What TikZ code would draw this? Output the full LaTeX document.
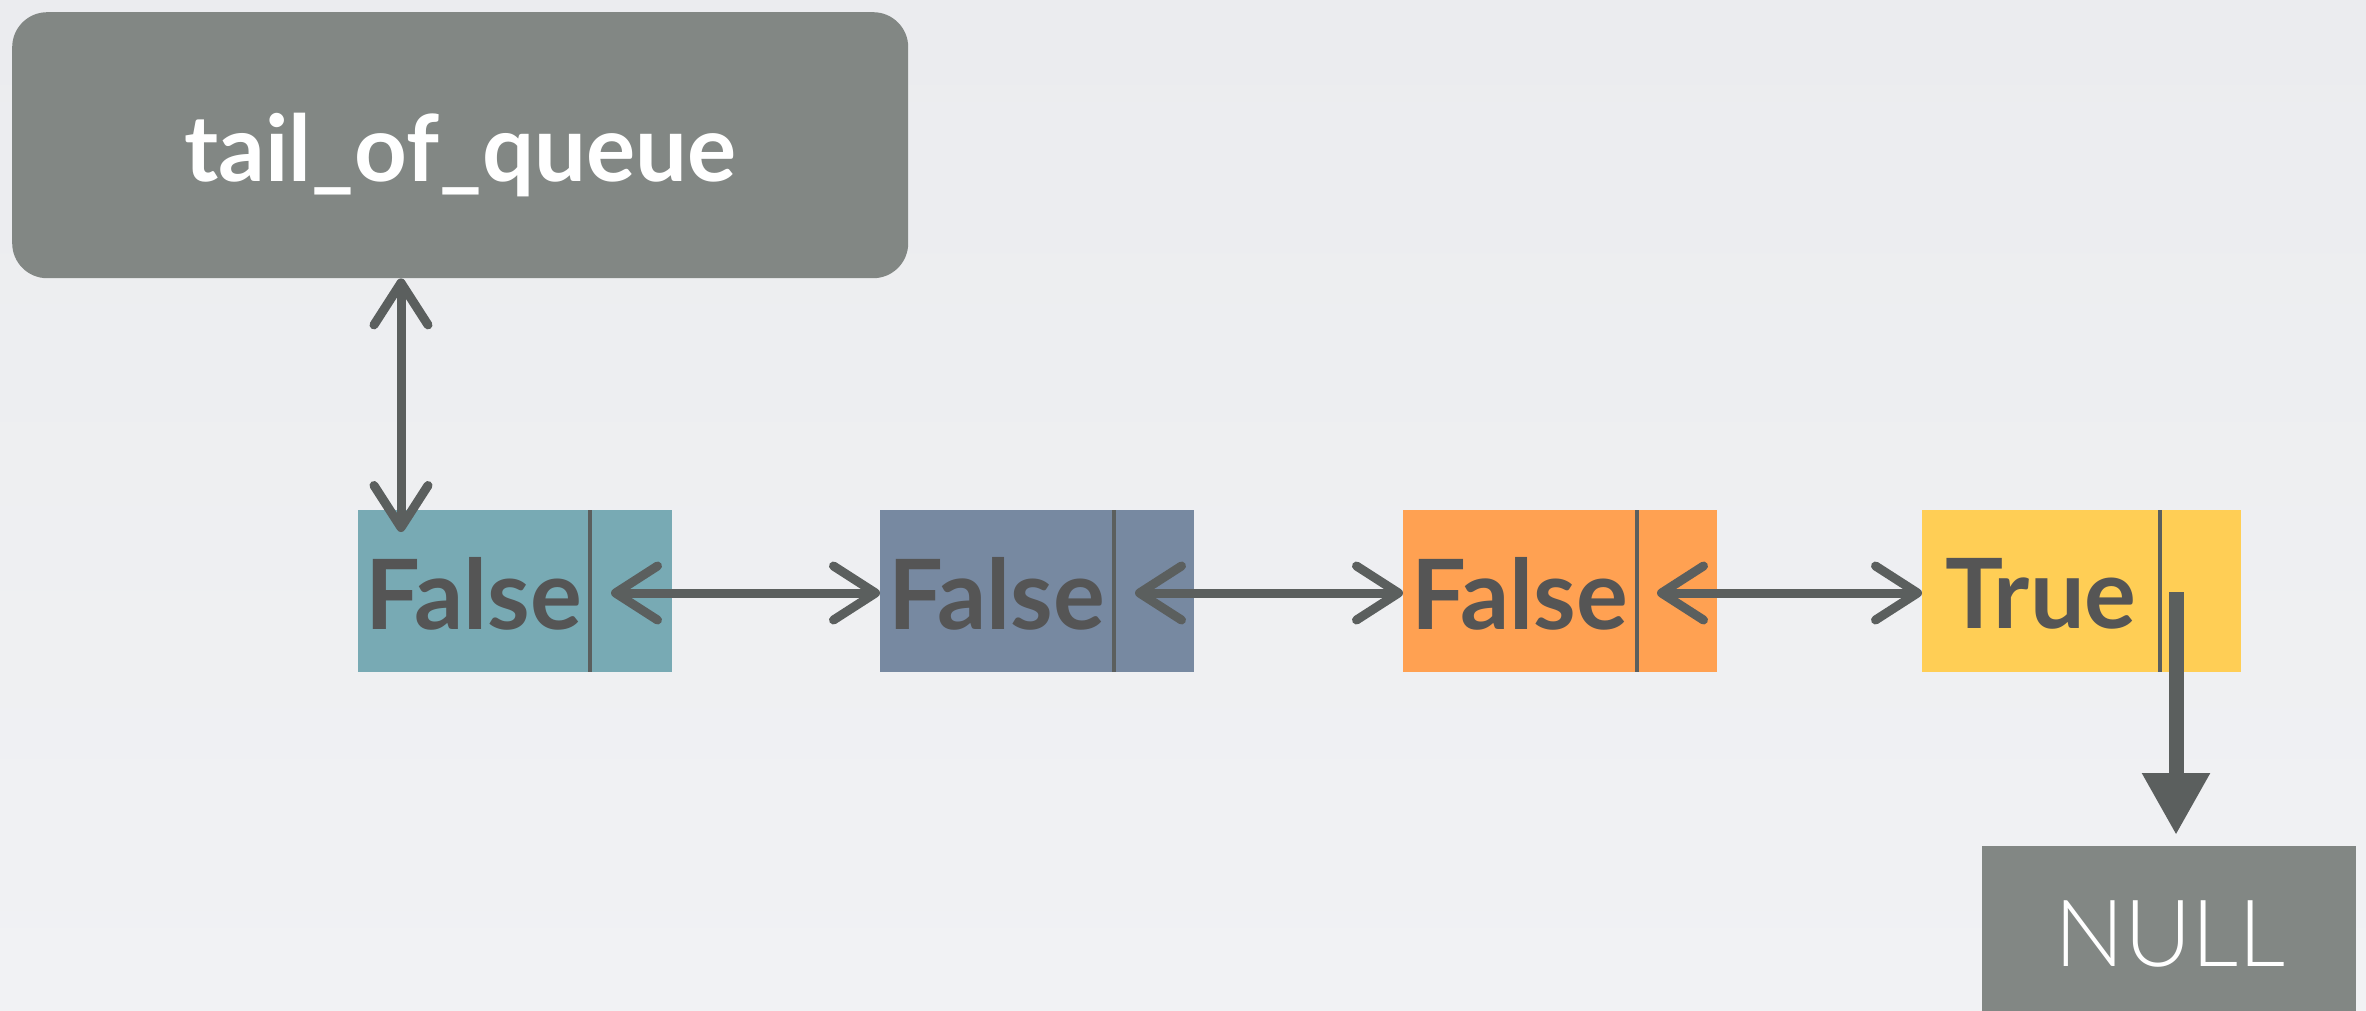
\documentclass[tikz,border=0pt]{standalone}
\usepackage{fontspec}
\setmainfont{Lato}
\newfontfamily\thinfont{Lato Light}
\usetikzlibrary{arrows.meta}

\definecolor{bgtop}{HTML}{EBECEF}
\definecolor{bgbot}{HTML}{F1F2F4}
\definecolor{slate}{HTML}{828784}
\definecolor{ink}{HTML}{555555}
\definecolor{wire}{HTML}{5B5F5E}
\definecolor{teal}{HTML}{78AAB4}
\definecolor{steel}{HTML}{7789A1}
\definecolor{tangerine}{HTML}{FFA152}
\definecolor{sun}{HTML}{FFCE55}

\tikzset{
  listcell/.style={draw=none, minimum width=314pt, minimum height=162pt,
    anchor=north west, inner sep=0pt},
  flag/.style={text=ink, font=\fontsize{97}{100}\selectfont\bfseries, inner sep=0pt},
  divider/.style={draw=wire, line width=4pt},
  barb/.style={Straight Barb[length=42pt, width=54pt, line cap=round, line join=round]},
  link/.style={draw=wire, line width=9pt, line cap=round, line join=round,
    {Straight Barb[length=42pt, width=54pt, line cap=round, line join=round]}-{Straight Barb[length=42pt, width=54pt, line cap=round, line join=round]}},
  terminal/.style={draw=wire, line width=15pt,
    -{Triangle[length=62pt, width=64pt]}},
}

\begin{document}
\begin{tikzpicture}[x=1pt, y=-1pt]
  \useasboundingbox (0,0) rectangle (2366,1011);
  \shade[top color=bgtop, bottom color=bgbot] (0,0) rectangle (2366,1011);

  % head pointer box
  \node[fill=slate, rounded corners=35pt, minimum width=896pt, minimum height=266pt,
        anchor=north west, inner sep=0pt] (tail) at (12,12) {};
  \node[text=white, font=\fontsize{92}{96}\selectfont\bfseries, inner sep=0pt]
        (tailtext) at (460,155) {tail\_of\_queue};

  % list nodes
  \node[listcell, fill=teal]      (n1) at (358,510)  {};
  \node[listcell, fill=steel]     (n2) at (880,510)  {};
  \node[listcell, fill=tangerine] (n3) at (1403,510) {};
  \node[listcell, fill=sun, minimum width=319pt] (n4) at (1922,510) {};

  \node[flag] (f1) at (474,594)  {False};
  \node[flag] (f2) at (997,594)  {False};
  \node[flag] (f3) at (1520,594) {False};
  \node[flag] (f4) at (2041,594) {True};

  \draw[divider] (590,510)  -- (590,672);
  \draw[divider] (1114,510) -- (1114,672);
  \draw[divider] (1637,510) -- (1637,672);
  \draw[divider] (2160,510) -- (2160,672);

  % NULL terminator
  \node[fill=slate, minimum width=374pt, minimum height=170pt, anchor=north west,
        inner sep=0pt] (null) at (1982,846) {};
  \node[text=white, font=\fontsize{93}{96}\selectfont\thinfont, inner sep=0pt]
        (nulltext) at (2170,934) {NULL};

  % pointer origins
  \coordinate (h1) at (401,532);
  \coordinate (q1) at (611,593);
  \coordinate (q2) at (1135,593);
  \coordinate (q3) at (1657,593);
  \coordinate (q4) at (2176,592);

  % links
  \draw[link] (h1 |- tail.south) -- (h1);
  \draw[link] (q1) -- (n2.west |- q1);
  \draw[link] (q2) -- (n3.west |- q2);
  \draw[link] (q3) -- (n4.west |- q3);
  \draw[terminal] (q4) -- ([yshift=11pt]q4 |- null.north);
\end{tikzpicture}
\end{document}
